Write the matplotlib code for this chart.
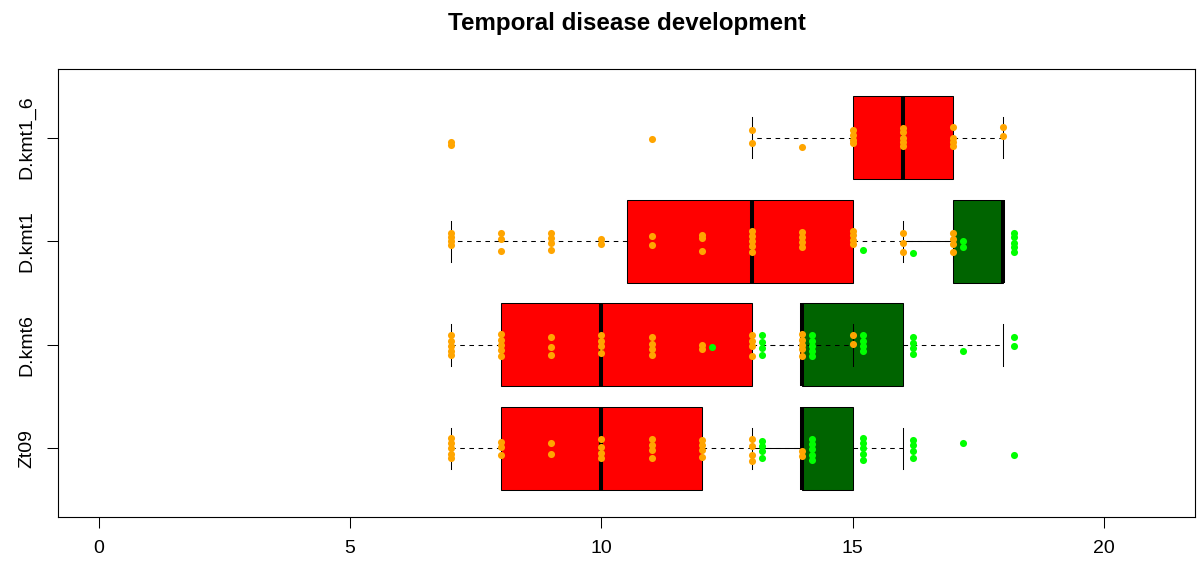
import matplotlib
matplotlib.use("Agg")
import matplotlib.pyplot as plt

plt.rcParams['font.family'] = ['Liberation Sans', 'DejaVu Sans']

isolates = ['Zt09', 'D.kmt6', 'D.kmt1', 'D.kmt1_6']

# five-number summaries per isolate (whislo, q1, median, q3, whishi)
early_stats = [
    [7, 8, 10, 12, 14],
    [7, 8, 10, 13, 15],
    [7, 10.5, 13, 15, 17],
    [13, 15, 16, 17, 18],
]
late_stats = [
    [13, 14, 14, 15, 16],
    [12, 14, 14, 16, 18],
    [16, 17, 18, 18, 18],
]

# individual observations (days) and their vertical jitter
zt09_early = [7, 7, 7, 7, 7, 8, 8, 8, 9, 9, 10, 10, 10, 10, 11, 11, 11, 11,
              12, 12, 12, 12, 13, 13, 13, 13, 14, 14]
zt09_early_jit = [0.10, 0.05, 0.0, -0.05, -0.09, 0.06, 0.01, -0.06, 0.05, -0.05,
                  0.09, 0.01, -0.04, -0.09, 0.09, 0.03, -0.02, -0.09,
                  0.08, 0.03, -0.02, -0.08, 0.09, 0.02, -0.06, -0.12, -0.03, -0.07]
zt09_late = [13, 13, 13, 13, 14, 14, 14, 14, 14, 15, 15, 15, 15, 15,
             16, 16, 16, 16, 17, 18]
zt09_late_jit = [0.07, 0.02, -0.03, -0.09, 0.09, 0.04, -0.01, -0.06, -0.11,
                 0.10, 0.05, 0.0, -0.05, -0.11, 0.08, 0.03, -0.03, -0.09, 0.05, -0.06]

kmt6_early = [7, 7, 7, 7, 7, 8, 8, 8, 8, 8, 9, 9, 9, 10, 10, 10, 10,
              11, 11, 11, 11, 12, 12, 13, 13, 13, 13, 14, 14, 14, 14, 14, 15, 15]
kmt6_early_jit = [0.09, 0.04, -0.01, -0.06, -0.10, 0.10, 0.05, 0.0, -0.05, -0.11,
                  0.08, -0.02, -0.10, 0.09, 0.04, -0.01, -0.08,
                  0.08, 0.01, -0.04, -0.10, 0.0, -0.04, 0.09, 0.04, -0.01, -0.11,
                  0.10, 0.05, 0.0, -0.04, -0.11, 0.09, 0.01]
kmt6_late = [12, 13, 13, 13, 13, 14, 14, 14, 14, 14, 15, 15, 15, 15,
             16, 16, 16, 16, 17, 18, 18]
kmt6_late_jit = [-0.02, 0.09, 0.03, -0.03, -0.10, 0.09, 0.04, -0.01, -0.06, -0.11,
                 0.09, 0.04, -0.01, -0.06, 0.08, 0.02, -0.03, -0.09, -0.06, 0.08, -0.01]

kmt1_early = [7, 7, 7, 7, 8, 8, 8, 9, 9, 9, 9, 10, 10, 11, 11, 12, 12, 12,
              13, 13, 13, 13, 13, 14, 14, 14, 14, 15, 15, 15, 15, 16, 16, 16,
              17, 17, 17, 17]
kmt1_early_jit = [0.08, 0.04, 0.0, -0.04, 0.08, 0.02, -0.09, 0.08, 0.03, -0.02, -0.08,
                  0.02, -0.03, 0.05, -0.04, 0.06, 0.03, -0.09,
                  0.10, 0.05, 0.0, -0.05, -0.10, 0.09, 0.04, -0.01, -0.06,
                  0.10, 0.06, 0.01, -0.03, 0.08, -0.02, -0.10,
                  0.08, 0.02, -0.03, -0.10]
kmt1_late = [15, 16, 17, 17, 18, 18, 18, 18, 18]
kmt1_late_jit = [-0.08, -0.11, 0.0, -0.06, 0.08, 0.04, -0.02, -0.06, -0.10]

kmt16_early = [7, 7, 11, 13, 13, 14, 15, 15, 15, 15, 16, 16, 16, 16, 16,
               17, 17, 17, 17, 18, 18]
kmt16_early_jit = [-0.04, -0.07, -0.01, 0.07, -0.05, -0.09, 0.07, 0.03, -0.02, -0.05,
                   0.09, 0.05, 0.0, -0.04, -0.08, 0.10, 0.0, -0.04, -0.08, 0.10, 0.02]

early_points = [(zt09_early, zt09_early_jit), (kmt6_early, kmt6_early_jit),
                (kmt1_early, kmt1_early_jit), (kmt16_early, kmt16_early_jit)]
late_points = [(zt09_late, zt09_late_jit), (kmt6_late, kmt6_late_jit),
               (kmt1_late, kmt1_late_jit)]

positions = [1, 2, 3, 4]
late_shift = 0.2


def to_bxp(rows):
    return [dict(whislo=r[0], q1=r[1], med=r[2], q3=r[3], whishi=r[4], fliers=[])
            for r in rows]


fig = plt.figure(figsize=(11.97, 5.63), dpi=100)
ax = fig.add_axes([0.0485, 0.0822, 0.9498, 0.7947])

common = dict(orientation='horizontal', widths=0.8, patch_artist=True,
              showfliers=False, manage_ticks=False, capwidths=0.4,
              whiskerprops=dict(color='black', linewidth=0.75,
                                linestyle=(0, (4.4, 4.4))),
              capprops=dict(color='black', linewidth=0.75),
              medianprops=dict(color='black', linewidth=2.9, solid_capstyle='butt'))

late_box = ax.bxp(to_bxp(late_stats), positions=positions[:3], zorder=2,
                  boxprops=dict(facecolor='#006400', edgecolor='black', linewidth=0.75),
                  **common)
ax.bxp(to_bxp(early_stats), positions=positions, zorder=2.5,
       boxprops=dict(facecolor='#FF0000', edgecolor='black', linewidth=0.75),
       **common)

# where the lower green whisker runs along the red one the dashes fill in
for i in (0, 2):
    late_box['whiskers'][2 * i].set_linestyle('-')

for pos, (xs, jit) in zip(positions, late_points):
    ax.scatter([x + late_shift for x in xs], [pos + j for j in jit],
               s=26, color='#00FF00', linewidths=0, zorder=3)
for pos, (xs, jit) in zip(positions, early_points):
    ax.scatter(xs, [pos + j for j in jit],
               s=26, color='#FFA500', linewidths=0, zorder=3.5)

ax.set_xlim(-0.81, 21.81)
ax.set_ylim(0.34, 4.66)
ax.set_xticks([0, 5, 10, 15, 20])
ax.set_yticks(positions)
ax.set_yticklabels(isolates, rotation=90, va='center')
ax.tick_params(axis='both', length=8, width=0.75, labelsize=14)
ax.tick_params(axis='x', pad=9)
ax.tick_params(axis='y', pad=8)
for sp in ax.spines.values():
    sp.set_linewidth(0.8)

fig.suptitle('Temporal disease development', fontsize=17.4, fontweight='bold',
             x=0.5235, y=0.978, va='top')

fig.savefig('out.png', dpi=100)
